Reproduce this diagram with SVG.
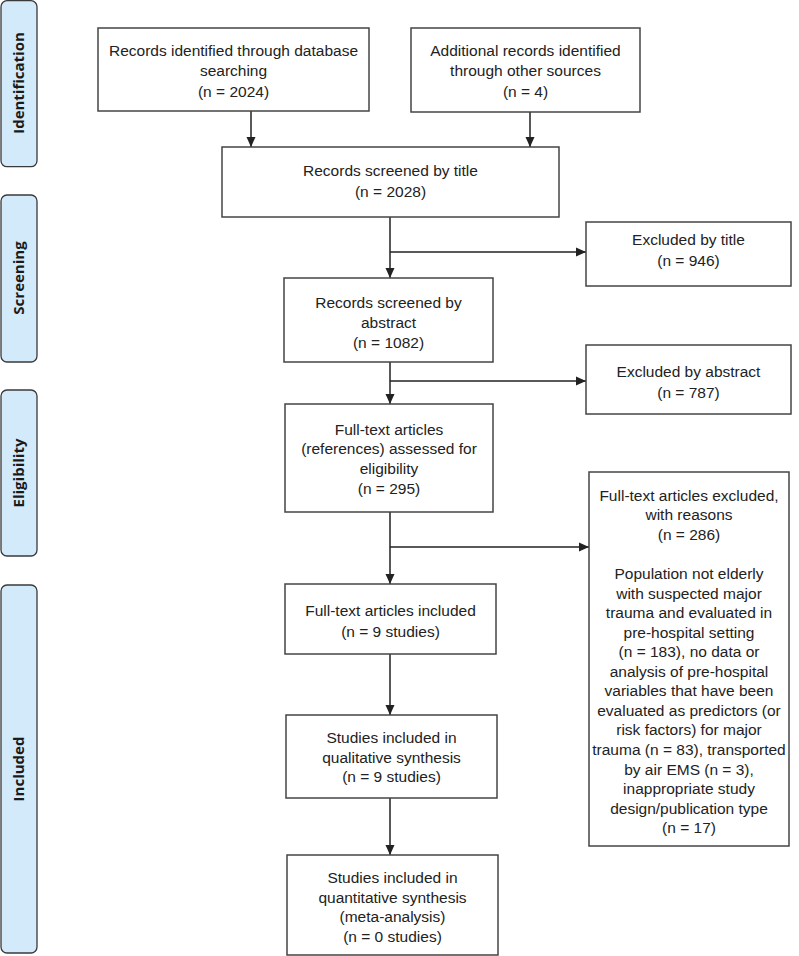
<svg xmlns="http://www.w3.org/2000/svg" width="799" height="956" viewBox="0 0 799 956">
<style>
.phase{fill:#d3eafb;stroke:#3a3a3a;stroke-width:1.3}
.pt{font-family:"Open Sans","Liberation Sans",sans-serif;font-weight:bold;font-size:15px;fill:#1a1a1a;text-anchor:middle}
.box{fill:#fff;stroke:#444;stroke-width:1.5}
.t{font-family:"Liberation Sans",Arial,sans-serif;font-size:15.5px;fill:#222;text-anchor:middle}
.c{stroke:#222;stroke-width:1.5;fill:none}
</style>
<defs>
<marker id="ah" viewBox="0 0 10 10" refX="10" refY="5" markerWidth="10" markerHeight="10" markerUnits="userSpaceOnUse" orient="auto">
<path d="M0,0.5 L10,5 L0,9.5 Z" fill="#222"/>
</marker>
</defs>
<rect width="799" height="956" fill="#fff"/>

<g id="phase-identification">
<rect class="phase" x="1" y="0.7" width="36" height="166" rx="6"/>
<text class="pt" transform="translate(24,83) rotate(-90)">Identification</text>
</g>
<g id="phase-screening">
<rect class="phase" x="1" y="195" width="36" height="167" rx="6"/>
<text class="pt" transform="translate(24,278) rotate(-90)">Screening</text>
</g>
<g id="phase-eligibility">
<rect class="phase" x="1" y="390" width="36" height="166" rx="6"/>
<text class="pt" transform="translate(24,473) rotate(-90)">Eligibility</text>
</g>
<g id="phase-included">
<rect class="phase" x="1" y="585" width="36" height="368" rx="6"/>
<text class="pt" transform="translate(24,769) rotate(-90)">Included</text>
</g>

<g id="connectors">
<line class="c" x1="251" y1="111" x2="251" y2="147" marker-end="url(#ah)"/>
<line class="c" x1="530" y1="112" x2="530" y2="147" marker-end="url(#ah)"/>
<line class="c" x1="390" y1="217" x2="390" y2="278" marker-end="url(#ah)"/>
<line class="c" x1="390" y1="252" x2="586" y2="252" marker-end="url(#ah)"/>
<line class="c" x1="390" y1="362" x2="390" y2="404" marker-end="url(#ah)"/>
<line class="c" x1="390" y1="381" x2="586" y2="381" marker-end="url(#ah)"/>
<line class="c" x1="390" y1="512" x2="390" y2="584" marker-end="url(#ah)"/>
<line class="c" x1="390" y1="547" x2="589" y2="547" marker-end="url(#ah)"/>
<line class="c" x1="390" y1="654" x2="390" y2="715" marker-end="url(#ah)"/>
<line class="c" x1="390" y1="798" x2="390" y2="855" marker-end="url(#ah)"/>
</g>

<g id="records-database">
<rect class="box" x="98" y="28" width="271" height="83"/>
<text class="t" x="233.5" y="55.5">Records identified through database</text>
<text class="t" x="233.5" y="76">searching</text>
<text class="t" x="233.5" y="96.5">(n = 2024)</text>
</g>
<g id="records-other">
<rect class="box" x="411" y="28" width="229" height="84"/>
<text class="t" x="525.5" y="55.5">Additional records identified</text>
<text class="t" x="525.5" y="76">through other sources</text>
<text class="t" x="525.5" y="96.5">(n = 4)</text>
</g>
<g id="screened-title">
<rect class="box" x="222" y="147" width="337" height="70"/>
<text class="t" x="390.5" y="175.5">Records screened by title</text>
<text class="t" x="390.5" y="196.5">(n = 2028)</text>
</g>
<g id="excluded-title">
<rect class="box" x="586" y="222" width="205" height="64"/>
<text class="t" x="688.5" y="244.5">Excluded by title</text>
<text class="t" x="688.5" y="265.5">(n = 946)</text>
</g>
<g id="screened-abstract">
<rect class="box" x="284" y="278" width="209" height="84"/>
<text class="t" x="388.5" y="307.5">Records screened by</text>
<text class="t" x="388.5" y="327.5">abstract</text>
<text class="t" x="388.5" y="347.5">(n = 1082)</text>
</g>
<g id="excluded-abstract">
<rect class="box" x="586" y="345" width="205" height="69"/>
<text class="t" x="688.5" y="376.5">Excluded by abstract</text>
<text class="t" x="688.5" y="397.5">(n = 787)</text>
</g>
<g id="fulltext-assessed">
<rect class="box" x="285" y="404" width="208" height="108"/>
<text class="t" x="389" y="434.5">Full-text articles</text>
<text class="t" x="389" y="454">(references) assessed for</text>
<text class="t" x="389" y="473.5">eligibility</text>
<text class="t" x="389" y="493.5">(n = 295)</text>
</g>
<g id="fulltext-excluded">
<rect class="box" x="589" y="472" width="200" height="374"/>
<text class="t" x="689" y="500.5">Full-text articles excluded,</text>
<text class="t" x="689" y="519.5">with reasons</text>
<text class="t" x="689" y="539.5">(n = 286)</text>
<text class="t" x="689" y="578.5">Population not elderly</text>
<text class="t" x="689" y="598.5">with suspected major</text>
<text class="t" x="689" y="617.5">trauma and evaluated in</text>
<text class="t" x="689" y="637.5">pre-hospital setting</text>
<text class="t" x="689" y="656.5">(n = 183), no data or</text>
<text class="t" x="689" y="676.5">analysis of pre-hospital</text>
<text class="t" x="689" y="695.5">variables that have been</text>
<text class="t" x="689" y="715.5">evaluated as predictors (or</text>
<text class="t" x="689" y="734.5">risk factors) for major</text>
<text class="t" x="689" y="754.5">trauma (n = 83), transported</text>
<text class="t" x="689" y="774.5">by air EMS (n = 3),</text>
<text class="t" x="689" y="793.5">inappropriate study</text>
<text class="t" x="689" y="813.5">design/publication type</text>
<text class="t" x="689" y="832.5">(n = 17)</text>
</g>
<g id="fulltext-included">
<rect class="box" x="285" y="584" width="211" height="70"/>
<text class="t" x="390.5" y="615.5">Full-text articles included</text>
<text class="t" x="390.5" y="636.5">(n = 9 studies)</text>
</g>
<g id="qualitative">
<rect class="box" x="286" y="715" width="211" height="83"/>
<text class="t" x="391.5" y="742.5">Studies included in</text>
<text class="t" x="391.5" y="762.5">qualitative synthesis</text>
<text class="t" x="391.5" y="781.5">(n = 9 studies)</text>
</g>
<g id="quantitative">
<rect class="box" x="287" y="855" width="211" height="100"/>
<text class="t" x="392.5" y="882.5">Studies included in</text>
<text class="t" x="392.5" y="902.5">quantitative synthesis</text>
<text class="t" x="392.5" y="922">(meta-analysis)</text>
<text class="t" x="392.5" y="941.5">(n = 0 studies)</text>
</g>
</svg>
